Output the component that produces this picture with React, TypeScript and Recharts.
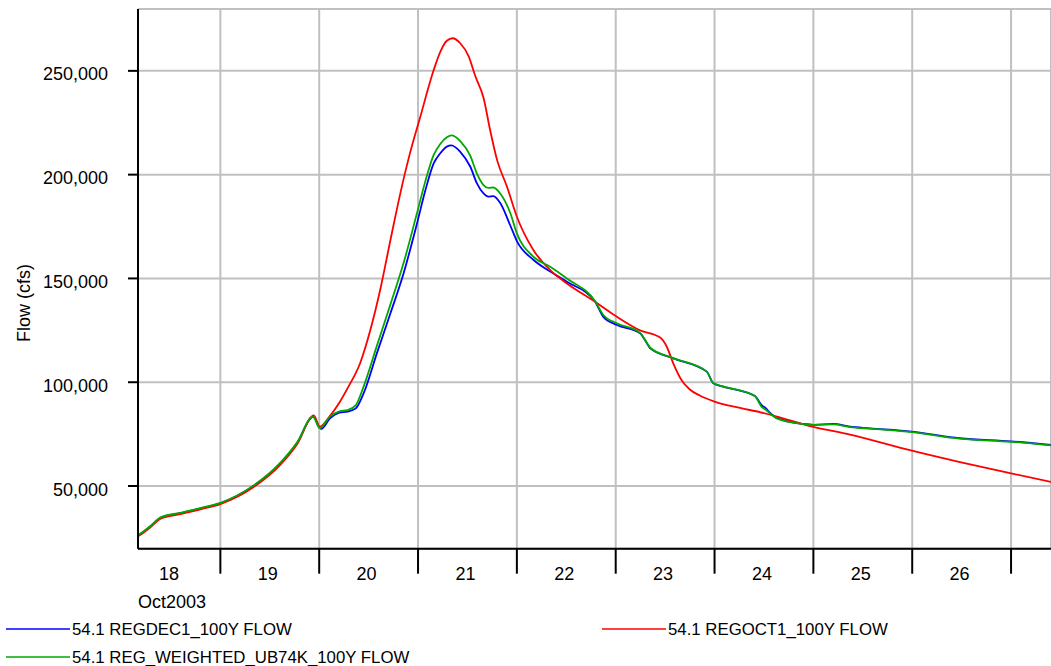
import React from 'react';
import { LineChart, Line, XAxis, YAxis, CartesianGrid } from 'recharts';

// ---- Data (hours since 18 Oct 2003 00:00, flow in cfs) ----
const decHours = [4, 5.4, 7, 9.5, 14.3, 19.2, 24, 32.1, 38.6, 42.6, 46.5, 48.5, 50.6, 52.9, 54.9, 56.9, 58.8, 62, 65.3, 68.5, 71.75, 73.8, 75.8, 77.4, 79, 80.1, 82.25, 84.7, 86.3, 87.9, 89.1, 90.3, 92, 94.4, 96, 100, 104.1, 108.15, 115, 117, 120.3, 125.9, 127.6, 128.4, 134, 142.1, 143.7, 146.1, 153.8, 155.5, 156.3, 157.5, 159.1, 165.6, 168, 172.8, 176.9, 181.7, 191.9, 203.6, 216, 225.7];
const decFlow = [26100, 28000, 30500, 34700, 36900, 39200, 41700, 50100, 61000, 70600, 83300, 77500, 82600, 85300, 85800, 87400, 94700, 113900, 133200, 152500, 176500, 192600, 205400, 210300, 213500, 214100, 211000, 203800, 195800, 191000, 189400, 189700, 186200, 175500, 168000, 159000, 153300, 148400, 138800, 131500, 127600, 123600, 118700, 116300, 111500, 105100, 99500, 97900, 93400, 88800, 87700, 85200, 82800, 79900, 79500, 79900, 78600, 77800, 76200, 73000, 71500, 69800];

const octHours = [4, 5.4, 7, 9.5, 14.3, 19.2, 24, 32.1, 38.6, 42.6, 46.7, 48.1, 50.5, 53, 55, 58, 60.4, 62.8, 65.3, 67.7, 70, 72.55, 75.8, 77.4, 79, 80.4, 82.25, 84.3, 85.9, 87.9, 89.5, 91.2, 93.6, 96, 100, 104.1, 108.15, 115, 120.3, 125.9, 130.8, 132.4, 134, 136, 138, 140.5, 144, 150.2, 155.2, 160, 168, 176.9, 191.9, 203.6, 216, 225.7];
const octFlow = [25800, 27600, 30100, 34300, 36500, 38800, 41300, 49500, 60300, 70000, 84000, 78500, 83500, 90500, 97500, 109500, 125000, 144400, 168500, 191000, 210000, 227900, 250400, 259200, 264500, 265700, 263300, 257000, 247500, 237000, 221500, 207000, 194200, 179700, 163700, 154000, 147600, 138800, 131500, 125000, 121500, 117100, 109000, 101000, 96500, 93500, 90700, 87600, 85500, 83000, 78500, 74800, 67000, 61500, 56100, 52000];

const wtdHours = [4, 5.4, 7, 9.5, 14.3, 19.2, 24, 32.1, 38.6, 42.6, 46.5, 48.1, 50.6, 52.9, 54.9, 56.9, 58.8, 62, 65.3, 68.5, 71.75, 73.8, 75.8, 77.4, 79, 80.1, 82.25, 84.7, 86.3, 87.9, 89.1, 90.3, 92, 94.4, 96, 100, 104.1, 108.15, 115, 117, 120.3, 125.9, 127.6, 128.4, 134, 142.1, 143.7, 146.1, 153.8, 155.5, 156.3, 157.5, 159.1, 165.6, 168, 172.8, 176.9, 181.7, 191.9, 203.6, 216, 225.7];
const wtdFlow = [26200, 28200, 30700, 34900, 37100, 39400, 41900, 50300, 61300, 70900, 83400, 77900, 83400, 86000, 86600, 89000, 98000, 117500, 137500, 157500, 181500, 197000, 209500, 214800, 218000, 218900, 216200, 209000, 200500, 195000, 193600, 193800, 190800, 181500, 171700, 160500, 155600, 150000, 139000, 132400, 128400, 123800, 118900, 116600, 111600, 105100, 99600, 98000, 93300, 88000, 87000, 84900, 82600, 79800, 79400, 79700, 78400, 77600, 76000, 72800, 71300, 69600];

const dayBoundaries = [24, 48, 72, 96, 120, 144, 168, 192, 216];
const dayLabels = ['18', '19', '20', '21', '22', '23', '24', '25', '26'];
const flowTicks = [50000, 100000, 150000, 200000, 250000];
const seriesNames = ['54.1 REGDEC1_100Y FLOW', '54.1 REGOCT1_100Y FLOW', '54.1 REG_WEIGHTED_UB74K_100Y FLOW'];
const monthLabel = 'Oct2003';
const yLabel = 'Flow (cfs)';

const X_MIN = 4;
const X_MAX = 225.7;
const Y_MIN = 19800;
const Y_MAX = 279800;

// ---- Layout ----
const W = 1051;
const H = 666;
const PLOT_LEFT = 138;
const PLOT_TOP = 9;
const PLOT_BOTTOM = 548.7;
const X_AXIS_H = 30;
const PX_PER_HOUR = (W - PLOT_LEFT) / (X_MAX - X_MIN);
const FONT = '"Liberation Sans", Arial, Helvetica, sans-serif';

const toRows = (hours: number[], flows: number[]) => hours.map((h, i) => ({ h, v: flows[i] }));
const decData = toRows(decHours, decFlow);
const octData = toRows(octHours, octFlow);
const wtdData = toRows(wtdHours, wtdFlow);

const fmt = (v: number) => v.toLocaleString('en-US');

const XTick = (props: any) => {
  const { x, y, payload } = props;
  const idx = dayBoundaries.indexOf(payload.value);
  const label = idx >= 0 ? dayLabels[idx] : '';
  return (
    <text x={x - PX_PER_HOUR * 12 - 2} y={y + 6.5} textAnchor="middle" fontSize={18} fontFamily={FONT} fill="#000">
      {label}
    </text>
  );
};

const YTick = (props: any) => {
  const { x, y, payload } = props;
  return (
    <text x={x} y={y + 9.5} textAnchor="end" fontSize={18} fontFamily={FONT} fill="#000">
      {fmt(payload.value)}
    </text>
  );
};

const legendItems = [
  { name: seriesNames[0], color: '#0000ff', lx: 6, ly: 629 },
  { name: seriesNames[1], color: '#ff0000', lx: 602, ly: 629 },
  { name: seriesNames[2], color: '#00a800', lx: 6, ly: 657 },
];

export default function App() {
  return (
    <div style={{ position: 'absolute', left: 0, top: 0, width: W, height: H, background: '#fff', overflow: 'hidden' }}>
      <LineChart
        width={W}
        height={H}
        margin={{ top: PLOT_TOP, right: 0, left: 0, bottom: H - PLOT_BOTTOM - X_AXIS_H }}
      >
        <CartesianGrid stroke="#c0c0c0" strokeWidth={2} />
        <XAxis
          dataKey="h"
          type="number"
          domain={[X_MIN, X_MAX]}
          allowDataOverflow
          ticks={dayBoundaries}
          interval={0}
          height={X_AXIS_H}
          tickSize={25}
          tickMargin={0}
          tick={<XTick />}
          tickLine={{ stroke: '#000', strokeWidth: 2 }}
          axisLine={{ stroke: '#000', strokeWidth: 2 }}
        />
        <XAxis
          xAxisId="top"
          orientation="top"
          type="number"
          domain={[X_MIN, X_MAX]}
          height={0}
          tick={false}
          tickLine={false}
          axisLine={{ stroke: '#000', strokeWidth: 2 }}
        />
        <YAxis
          type="number"
          domain={[Y_MIN, Y_MAX]}
          allowDataOverflow
          ticks={flowTicks}
          interval={0}
          width={PLOT_LEFT}
          tickSize={10}
          tickMargin={20}
          tick={<YTick />}
          tickLine={{ stroke: '#000', strokeWidth: 2 }}
          axisLine={{ stroke: '#000', strokeWidth: 2 }}
        />
        <Line data={decData} dataKey="v" type="monotone" stroke="#0000ff" strokeWidth={1.8} dot={false} isAnimationActive={false} />
        <Line data={octData} dataKey="v" type="monotone" stroke="#ff0000" strokeWidth={1.8} dot={false} isAnimationActive={false} />
        <Line data={wtdData} dataKey="v" type="monotone" stroke="#00a800" strokeWidth={1.8} dot={false} isAnimationActive={false} />
      </LineChart>
      <svg width={W} height={H} style={{ position: 'absolute', left: 0, top: 0, pointerEvents: 'none' }}>
        <text x={PLOT_LEFT} y={607.5} fontSize={18} fontFamily={FONT} fill="#000">{monthLabel}</text>
        <text transform="translate(30,303) rotate(-90)" textAnchor="middle" fontSize={18} fontFamily={FONT} fill="#000">{yLabel}</text>
        {legendItems.map((it) => (
          <g key={it.name}>
            <line x1={it.lx} y1={it.ly} x2={it.lx + 64} y2={it.ly} stroke={it.color} strokeWidth={1.5} />
            <text x={it.lx + 66} y={it.ly + 5.5} fontSize={16.8} fontFamily={FONT} fill="#000">{it.name}</text>
          </g>
        ))}
      </svg>
    </div>
  );
}
